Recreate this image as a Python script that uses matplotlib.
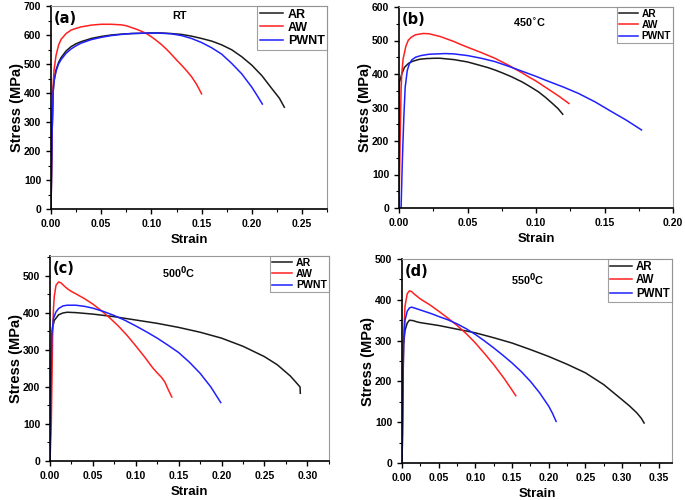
import matplotlib
matplotlib.use('Agg')
import matplotlib.pyplot as plt
from matplotlib.ticker import MultipleLocator

plt.rcParams['font.family'] = 'Liberation Sans'
plt.rcParams['font.weight'] = 'bold'

series_names = ['AR', 'AW', 'PWNT']
colors = ['#1a1a1a', '#ff2020', '#2020ff']

# (a) RT
a_ar_x = [0.0, 0.001, 0.002, 0.003, 0.005, 0.0075, 0.01, 0.015, 0.02, 0.025, 0.03, 0.04, 0.05, 0.06, 0.07, 0.08,
          0.09, 0.10, 0.11, 0.12, 0.13, 0.14, 0.15, 0.16, 0.17, 0.18, 0.19, 0.20, 0.21, 0.22, 0.2275, 0.2324]
a_ar_y = [0, 250, 400, 445, 480, 505, 522, 545, 560, 570, 577, 588, 595, 600, 603, 605,
          606, 607, 607, 605, 602, 596, 588, 579, 566, 549, 525, 496, 460, 415, 382, 351]
a_aw_x = [0.0, 0.001, 0.002, 0.003, 0.005, 0.0075, 0.01, 0.015, 0.02, 0.025, 0.03, 0.04, 0.05, 0.06, 0.07, 0.075,
          0.08, 0.085, 0.09, 0.095, 0.10, 0.105, 0.11, 0.115, 0.12, 0.125, 0.13, 0.135, 0.14, 0.145, 0.15]
a_aw_y = [0, 250, 420, 480, 530, 565, 585, 605, 617, 623, 628, 634, 637, 637, 635, 632,
          626, 620, 613, 605, 594, 581, 567, 551, 533, 514, 496, 477, 456, 430, 397]
a_pw_x = [0.0, 0.001, 0.002, 0.003, 0.005, 0.0075, 0.01, 0.015, 0.02, 0.025, 0.03, 0.04, 0.05, 0.06, 0.07, 0.08,
          0.09, 0.10, 0.11, 0.12, 0.13, 0.14, 0.15, 0.16, 0.17, 0.18, 0.19, 0.20, 0.205, 0.2105]
a_pw_y = [0, 250, 400, 440, 475, 500, 515, 537, 552, 563, 572, 584, 592, 598, 602, 605,
          606, 607, 606, 604, 598, 588, 574, 556, 534, 502, 466, 420, 393, 362]

# (b) 450 C
b_ar_x = [0.0, 0.0003, 0.002, 0.004, 0.007, 0.01, 0.015, 0.02, 0.026, 0.03, 0.04, 0.05, 0.058, 0.065, 0.07, 0.075,
          0.082, 0.09, 0.095, 0.1017, 0.107, 0.112, 0.116, 0.1195]
b_ar_y = [0, 375, 400, 420, 432, 438, 444, 446, 447, 447, 443, 436, 427, 419, 412, 404,
          392, 376, 364, 347, 330, 312, 297, 280]
b_aw_x = [0.0, 0.0008, 0.0015, 0.002, 0.003, 0.005, 0.0068, 0.009, 0.012, 0.0178, 0.022, 0.03, 0.04, 0.0457,
          0.05, 0.06, 0.07, 0.08, 0.09, 0.0944, 0.10, 0.11, 0.117, 0.124]
b_aw_y = [0, 200, 350, 400, 445, 483, 501, 510, 517, 521, 520, 512, 497, 487,
          480, 464, 447, 426, 403, 392, 379, 352, 333, 312]
b_pw_x = [0.0, 0.0015, 0.0025, 0.0035, 0.0045, 0.006, 0.0075, 0.0093, 0.012, 0.016, 0.022, 0.0336, 0.04, 0.05,
          0.06, 0.07, 0.08, 0.09, 0.10, 0.1066, 0.12, 0.131, 0.143, 0.155, 0.166, 0.177]
b_pw_y = [0, 0, 150, 270, 360, 410, 430, 442, 450, 455, 459, 461, 460, 455,
          447, 437, 423, 408, 393, 382, 361, 342, 317, 288, 262, 233]

# (c) 500 C
c_ar_x = [0.0, 0.001, 0.002, 0.003, 0.005, 0.01, 0.015, 0.02, 0.03, 0.05, 0.075, 0.10, 0.125, 0.15, 0.175, 0.20,
          0.225, 0.25, 0.265, 0.28, 0.287, 0.2915, 0.2918]
c_ar_y = [0, 200, 330, 360, 380, 395, 400, 402, 401, 397, 390, 381, 372, 361, 348, 332,
          310, 282, 260, 230, 212, 200, 183]
c_aw_x = [0.0, 0.0015, 0.003, 0.004, 0.005, 0.007, 0.010, 0.013, 0.017, 0.02, 0.025, 0.03, 0.04, 0.05, 0.06,
          0.07, 0.08, 0.09, 0.10, 0.11, 0.12, 0.125, 0.13, 0.134, 0.138, 0.142]
c_aw_y = [0, 100, 330, 410, 445, 475, 484, 481, 472, 466, 458, 452, 439, 424, 406,
          386, 364, 339, 311, 282, 251, 238, 226, 213, 192, 173]
c_pw_x = [0.0, 0.001, 0.002, 0.004, 0.007, 0.01, 0.015, 0.02, 0.03, 0.04, 0.05, 0.0625, 0.075, 0.0875, 0.10,
          0.1125, 0.125, 0.1375, 0.15, 0.1625, 0.175, 0.1875, 0.199]
c_pw_y = [0, 200, 340, 385, 403, 412, 419, 421, 421, 418, 413, 404, 393, 380, 365,
          349, 332, 313, 293, 267, 237, 200, 158]

# (d) 550 C
d_ar_x = [0.0, 0.001, 0.002, 0.004, 0.007, 0.01, 0.015, 0.02, 0.025, 0.05, 0.075, 0.10, 0.125, 0.15, 0.175, 0.20,
          0.225, 0.25, 0.275, 0.30, 0.31, 0.32, 0.326, 0.33]
d_ar_y = [0, 180, 290, 325, 343, 350, 349, 346, 344, 337, 328, 319, 307, 294, 278, 261,
          242, 221, 192, 155, 140, 123, 110, 98]
d_aw_x = [0.0, 0.001, 0.002, 0.004, 0.007, 0.01, 0.013, 0.018, 0.025, 0.0375, 0.05, 0.0625, 0.075, 0.0875, 0.10,
          0.1125, 0.125, 0.14, 0.155]
d_aw_y = [0, 150, 300, 385, 415, 422, 420, 412, 402, 388, 372, 355, 337, 317, 294,
          268, 241, 205, 165]
d_pw_x = [0.0, 0.001, 0.002, 0.004, 0.007, 0.01, 0.013, 0.02, 0.03, 0.04, 0.05, 0.0625, 0.075, 0.0875, 0.10,
          0.1125, 0.125, 0.1375, 0.15, 0.1625, 0.175, 0.1875, 0.20, 0.205, 0.21]
d_pw_y = [0, 150, 290, 350, 372, 380, 382, 378, 372, 366, 359, 351, 341, 329, 315,
          299, 282, 264, 245, 224, 200, 172, 139, 122, 102]

panels = [
    dict(rect=[0.0745, 0.582, 0.403, 0.406], tag='(a)', temp='RT', tx=0.465, ty=0.975, xlim=0.275, ylim=700,
         legfs=9, data=[(a_ar_x, a_ar_y), (a_aw_x, a_aw_y), (a_pw_x, a_pw_y)]),
    dict(rect=[0.5825, 0.584, 0.400, 0.402], tag='(b)', temp='450$^{\\circ}$C', tx=0.475, ty=0.95, xlim=0.20,
         ylim=600, legfs=7.3, data=[(b_ar_x, b_ar_y), (b_aw_x, b_aw_y), (b_pw_x, b_pw_y)]),
    dict(rect=[0.073, 0.078, 0.407, 0.41], tag='(c)', temp='500$^{\\mathbf{0}}$C', tx=0.46, ty=0.96, xlim=0.325,
         ylim=554, legfs=7.6, data=[(c_ar_x, c_ar_y), (c_aw_x, c_aw_y), (c_pw_x, c_pw_y)]),
    dict(rect=[0.587, 0.074, 0.394, 0.408], tag='(d)', temp='550$^{\\mathbf{0}}$C', tx=0.467, ty=0.94, xlim=0.368,
         ylim=500, legfs=8.3, data=[(d_ar_x, d_ar_y), (d_aw_x, d_aw_y), (d_pw_x, d_pw_y)]),
]

fig = plt.figure(figsize=(6.85, 5.0), dpi=100)

for p in panels:
    ax = fig.add_axes(p['rect'])
    for (x, y), name, c in zip(p['data'], series_names, colors):
        ax.plot(x, y, color=c, lw=1.1, label=name)
    ax.set_xlim(0, p['xlim'])
    ax.set_ylim(0, p['ylim'])
    ax.xaxis.set_major_locator(MultipleLocator(0.05))
    ax.xaxis.set_minor_locator(MultipleLocator(0.025))
    ax.yaxis.set_major_locator(MultipleLocator(100))
    ax.yaxis.set_minor_locator(MultipleLocator(50))
    ax.xaxis.set_major_formatter(plt.FormatStrFormatter('%.2f'))
    ax.tick_params(which='major', direction='out', length=3.5, width=1, labelsize=7.5, top=False, right=False)
    ax.tick_params(which='minor', direction='out', length=2, width=0.8, top=False, right=False)
    for s in ['left', 'bottom']:
        ax.spines[s].set_linewidth(1.2)
        ax.spines[s].set_color('black')
    for s in ['top', 'right']:
        ax.spines[s].set_linewidth(0.8)
        ax.spines[s].set_color('#999999')
    for lab in ax.get_xticklabels() + ax.get_yticklabels():
        lab.set_fontweight('bold')
    ax.set_xlabel('Strain', fontsize=9.5, fontweight='bold', labelpad=4)
    ax.set_ylabel('Stress (MPa)', fontsize=10.5, fontweight='bold', labelpad=0)
    ax.text(0.01, 0.975, p['tag'], transform=ax.transAxes, fontsize=10.5, fontweight='bold',
            family='DejaVu Sans', va='top', ha='left')
    ax.text(p['tx'], p['ty'], p['temp'], transform=ax.transAxes, fontsize=7.8, fontweight='bold',
            va='top', ha='center')
    leg = ax.legend(loc='upper right', fontsize=p['legfs'], frameon=True, fancybox=False,
                    handlelength=1.9, borderaxespad=0.0, borderpad=0.2, labelspacing=0.1,
                    handletextpad=0.35)
    leg.get_frame().set_edgecolor('#888888')
    leg.get_frame().set_linewidth(0.8)
    for t in leg.get_texts():
        t.set_fontweight('bold')

fig.savefig('out.png', dpi=100, facecolor='white')
